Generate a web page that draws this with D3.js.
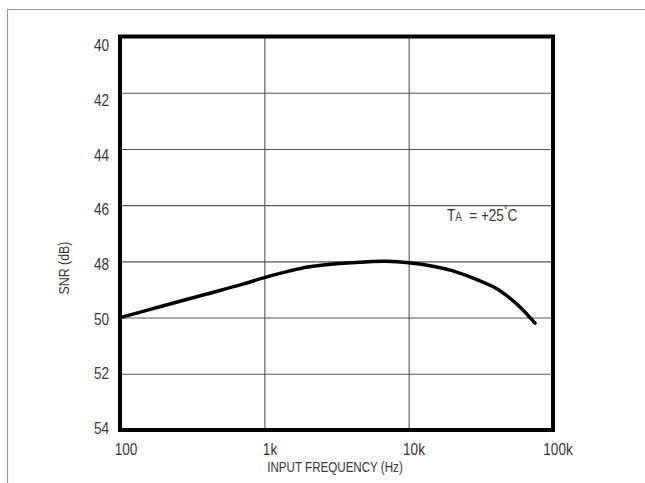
<!DOCTYPE html>
<html><head><meta charset="utf-8">
<script src="https://cdn.jsdelivr.net/npm/d3@7"></script>
<style>
html,body{margin:0;padding:0;background:#fff;}
svg{display:block;}
text{font-family:'Liberation Sans','Arial',sans-serif;fill:#383838;}
</style></head>
<body>
<svg id="c" width="645" height="483"></svg>
<script>
// ---- data ----
const freqHz = [100, 200, 400, 700, 1000, 1500, 2000, 3000, 5000, 7000, 10000, 15000, 20000, 30000, 40000, 50000, 60000, 75000];
const snrDb  = [50.0, 49.58, 49.16, 48.82, 48.58, 48.34, 48.2, 48.09, 48.02, 48.0, 48.05, 48.18, 48.33, 48.66, 48.95, 49.3, 49.66, 50.2];
const xTickValues = [100, 1000, 10000, 100000];
const xTickLabels = ["100", "1k", "10k", "100k"];
const yTickValues = [40, 42, 44, 46, 48, 50, 52, 54];
const xTitle = "INPUT FREQUENCY (Hz)";
const yTitle = "SNR (dB)";

const svg = d3.select("#c");
const L = 120, R = 553, T = 36.5, B = 430;
const SX = 0.8; // condensed look

const x = d3.scaleLog().domain([100, 100000]).range([L, R]);
const y = d3.scaleLinear().domain([40, 54]).range([T, B]);
// label placement scales (labels in the original sit slightly off the grid)
const xLab = d3.scaleLog().domain([100, 100000]).range([126, 558]);
const yLab = d3.scaleLinear().domain([40, 54]).range([45, 428]);

// outer page frame
svg.append("path").attr("d", "M7.5,483 L7.5,9.5 L645,9.5")
  .attr("fill", "none").attr("stroke", "#9a9a9a").attr("stroke-width", 1.2);

// grid via axes
const gx = svg.append("g").attr("transform", `translate(0,${B})`)
  .call(d3.axisBottom(x).tickValues(xTickValues.slice(1, -1)).tickSize(-(B - T)).tickFormat(""));
gx.select(".domain").remove();
gx.selectAll("line").attr("stroke", "#555").attr("stroke-width", 1.1);

const gy = svg.append("g").attr("transform", `translate(${L},0)`)
  .call(d3.axisLeft(y).tickValues(yTickValues.slice(1, -1)).tickSize(-(R - L)).tickFormat(""));
gy.select(".domain").remove();
gy.selectAll("line").attr("stroke", "#555").attr("stroke-width", 1.1);

// frame
svg.append("rect").attr("x", L).attr("y", T).attr("width", R - L).attr("height", B - T)
  .attr("fill", "none").attr("stroke", "#000").attr("stroke-width", 4);

// tick labels
svg.append("g").selectAll("text").data(yTickValues).join("text")
  .attr("transform", d => `translate(109,${yLab(d)}) scale(${SX},1)`)
  .attr("text-anchor", "end")
  .attr("dominant-baseline", "central").attr("font-size", 17).text(d => d);

svg.append("g").selectAll("text").data(xTickValues).join("text")
  .attr("transform", d => `translate(${xLab(d)},449) scale(${SX},1)`)
  .attr("text-anchor", "middle")
  .attr("dominant-baseline", "central").attr("font-size", 17)
  .text((d, i) => xTickLabels[i]);

// axis titles
svg.append("text").attr("transform", `translate(335,467) scale(${SX},1)`).attr("text-anchor", "middle")
  .attr("dominant-baseline", "central").attr("font-size", 14.5).text(xTitle);
svg.append("text").attr("transform", `translate(63,268) rotate(-90) scale(${SX},1)`)
  .attr("text-anchor", "middle").attr("dominant-baseline", "central")
  .attr("font-size", 15.5).text(yTitle);

// annotation
const ann = svg.append("text").attr("transform", `translate(447,214) scale(${SX},1)`)
  .attr("dominant-baseline", "central").attr("font-size", 17);
ann.append("tspan").text("T");
ann.append("tspan").attr("font-size", 12.5).attr("dy", 3).text("A");
ann.append("tspan").attr("dy", -3).attr("dx", 9).text("= +25");
ann.append("tspan").attr("font-size", 11).attr("dy", -5).text("°");
ann.append("tspan").attr("dy", 5).text("C");

// curve
const pts = freqHz.map((f, i) => [f, snrDb[i]]);
svg.append("path").datum(pts)
  .attr("fill", "none").attr("stroke", "#000").attr("stroke-width", 3.5)
  .attr("stroke-linecap", "round")
  .attr("d", d3.line().x(d => x(d[0])).y(d => y(d[1])).curve(d3.curveCatmullRom.alpha(0.5)));
</script>
</body></html>
